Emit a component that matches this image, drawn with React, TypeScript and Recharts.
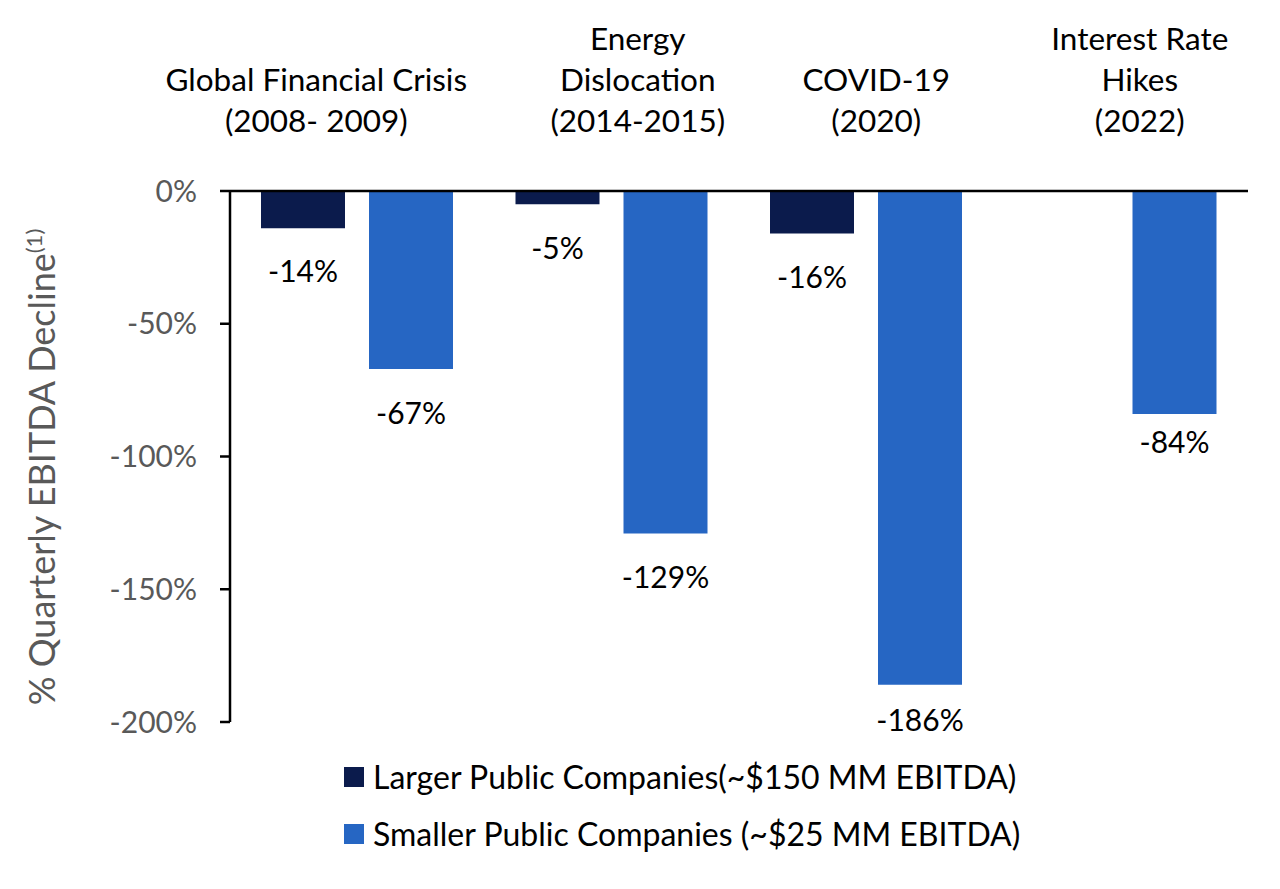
import React from 'react';
import { BarChart, Bar, XAxis, YAxis, Legend } from 'recharts';

// Crisis periods (line breaks split the axis label into rows)
const CATEGORIES = [
  'Global Financial Crisis\n(2008- 2009)',
  'Energy\nDislocation\n(2014-2015)',
  'COVID-19\n(2020)',
  'Interest Rate\nHikes\n(2022)',
];

// % quarterly EBITDA decline by company size
const LARGER = [-14, -5, -16, null];
const SMALLER = [-67, -129, -186, -84];

const Y_TICKS = [0, -50, -100, -150, -200];

const LARGER_NAME = 'Larger Public Companies(~$150 MM EBITDA)';
const SMALLER_NAME = 'Smaller Public Companies (~$25 MM EBITDA)';

const DARK = '#0B1B4C';
const BLUE = '#2666C3';
const FONT = 'Lato, "Open Sans", sans-serif';

const data = CATEGORIES.map((category, i) => ({
  category,
  larger: LARGER[i],
  smaller: SMALLER[i],
}));

// labels in the original are not exactly centred over their groups
const TITLE_SHIFT = [-41, 26, 10, 19];
// distance from bar end to label centre
const LARGER_GAP = [43, 44, 44, 44];
const SMALLER_GAP = [44, 44, 35, 28];

const CategoryTick = (props: any) => {
  const { x, y, payload, index } = props;
  const lines = String(payload.value).split('\n');
  const cx = x + (TITLE_SHIFT[index] || 0);
  const lastBaseline = y - 59;
  return (
    <text textAnchor="middle" fontSize={31.5} fill="#000" fontFamily={FONT}>
      {lines.map((line, i) => (
        <tspan key={i} x={cx} y={lastBaseline - (lines.length - 1 - i) * 41}>
          {line}
        </tspan>
      ))}
    </text>
  );
};

const makeValueLabel = (gaps: number[]) => (props: any) => {
  const { x, y, width, height, value, index } = props;
  if (value === null || value === undefined) return null;
  const bottom = Math.max(y, y + height);
  return (
    <text
      x={x + width / 2}
      y={bottom + gaps[index] + 11}
      textAnchor="middle"
      fontSize={30}
      fill="#000"
      fontFamily={FONT}
    >
      {`${value}%`}
    </text>
  );
};

const YTitle = () => (
  <text
    x={55}
    y={467}
    transform="rotate(-90, 55, 467)"
    textAnchor="middle"
    fontSize={36}
    fill="#595959"
    fontFamily={FONT}
  >
    % Quarterly EBITDA Decline
    <tspan fontSize={22} dy={-13}>(1)</tspan>
  </text>
);

const LegendContent = (props: any) => (
  <div style={{ fontFamily: FONT, fontSize: 32, color: '#000' }}>
    {(props.payload || []).map((item: any, i: number) => (
      <div key={i} style={{ display: 'flex', alignItems: 'center', height: 57 }}>
        <span style={{ width: 20, height: 20, background: item.color, marginRight: 9, flex: 'none' }} />
        <span style={{ whiteSpace: 'nowrap' }}>{item.value}</span>
      </div>
    ))}
  </div>
);

export default function App() {
  return (
    <div style={{ position: 'absolute', left: 0, top: 0, width: 1280, height: 889, background: '#fff' }}>
      <BarChart
        width={1280}
        height={889}
        data={data}
        margin={{ top: 41, right: 32, bottom: 167, left: 110 }}
        barSize={84}
        barGap={24}
      >
        <XAxis
          dataKey="category"
          orientation="top"
          height={150}
          tickLine={false}
          tickSize={0}
          tickMargin={0}
          axisLine={{ stroke: '#000', strokeWidth: 2.5 }}
          tick={<CategoryTick />}
          interval={0}
        />
        <YAxis
          width={120}
          domain={[-200, 0]}
          ticks={Y_TICKS}
          allowDataOverflow
          tickFormatter={(v: number) => `${v}%`}
          tick={{ fontSize: 30, fill: '#595959', fontFamily: FONT }}
          tickSize={10}
          tickMargin={23}
          tickLine={{ stroke: '#000', strokeWidth: 2.5 }}
          axisLine={{ stroke: '#000', strokeWidth: 2.5 }}
          label={<YTitle />}
        />
        <Legend
          layout="vertical"
          align="center"
          verticalAlign="middle"
          content={<LegendContent />}
          wrapperStyle={{ left: 344, top: 748, width: 800, height: 114 }}
        />
        <Bar dataKey="larger" name={LARGER_NAME} fill={DARK} isAnimationActive={false} label={makeValueLabel(LARGER_GAP)} />
        <Bar dataKey="smaller" name={SMALLER_NAME} fill={BLUE} isAnimationActive={false} label={makeValueLabel(SMALLER_GAP)} />
      </BarChart>
    </div>
  );
}
